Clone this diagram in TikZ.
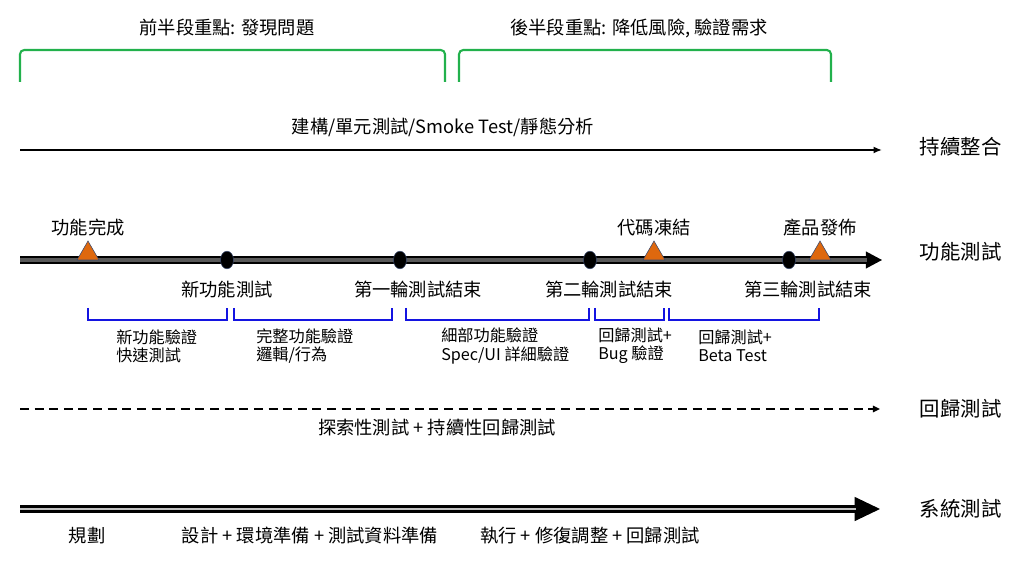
\documentclass[tikz,border=0pt]{standalone}
\usepackage{fontspec}
\setmainfont{Noto Sans CJK TC}
\usetikzlibrary{arrows.meta,shapes.geometric}
\definecolor{phasegreen}{RGB}{34,177,76}
\definecolor{spanblue}{RGB}{20,20,225}
\definecolor{mileorange}{RGB}{222,104,14}
\definecolor{miledge}{RGB}{60,75,110}

\begin{document}
\begin{tikzpicture}[x=0.025cm,y=-0.025cm,
  big/.style={font=\fontsize{13}{15}\selectfont},
  lane/.style={font=\fontsize{14.5}{17}\selectfont,anchor=west},
  small/.style={font=\fontsize{11.5}{13}\selectfont,align=left,anchor=west,inner sep=0pt},
  phase/.style={draw=phasegreen,line width=1.5pt,rounded corners=3pt},
  span/.style={draw=spanblue,line width=1.5pt},
  milestone/.style={fill=mileorange,draw=miledge,line width=0.4pt},
  dot/.style={ellipse,fill=black,draw=miledge,line width=0.4pt,minimum width=9.3pt,minimum height=12.5pt,inner sep=0pt},
  funline/.style={line width=1.1pt,double=black!65,double distance=2.8pt},
  sysline/.style={line width=2.6pt,double=black!25,double distance=1.1pt}]
  \useasboundingbox (0,0) rectangle (1024,569);

  % phases on top
  \node[big] (front) at (227,28) {前半段重點: 發現問題};
  \node[big] (back) at (639,28) {後半段重點: 降低風險, 驗證需求};
  \draw[phase] (20,82) -- (20,50) -- (445,50) -- (445,82);
  \draw[phase] (459,82) -- (459,50) -- (831,50) -- (831,82);

  % continuous integration
  \coordinate (ci0) at (20,150);
  \coordinate (ci1) at (882,150);
  \draw[line width=1.4pt,-{Latex[length=6pt,width=5pt]}] (ci0) -- (ci1);
  \node[big] (citext) at (443,127) {建構/單元測試/Smoke Test/靜態分析};
  \node[lane] (lci) at (915,147) {持續整合};

  % functional testing
  \coordinate (fn0) at (20,260);
  \coordinate (fn1) at (882,260);
  \draw[line width=1pt,-{Triangle[length=11.5pt,width=12pt]}] (fn0) -- (fn1);
  \draw[funline,shorten >=11pt] (fn0) -- (fn1);
  \node[lane] (lfn) at (915,252) {功能測試};

  \foreach \x/\name/\txt in {88/ms1/功能完成,654/ms2/代碼凍結,820/ms3/產品發佈}{
    \filldraw[milestone] (\x-11,260) -- (\x,241) -- (\x+11,260) -- cycle;
    \node[big] (\name) at (\x,228) {\txt};
  }

  \foreach \x/\name in {227/r0,400/r1,590/r2,789/r3}
    \node[dot] (\name) at (\x,260) {};
  \node[big] (lr0) at (227,290) {新功能測試};
  \node[big] (lr1) at (418,290) {第一輪測試結束};
  \node[big] (lr2) at (609,290) {第二輪測試結束};
  \node[big] (lr3) at (808,290) {第三輪測試結束};

  \foreach \a/\b in {88/227,234/392,406/589,595/664,669/819}
    \draw[span] (\a,308) -- (\a,320) -- (\b,320) -- (\b,308);

  \node[small] (s1) at (116,346) {新功能驗證\\快速測試};
  \node[small] (s2) at (256,346) {完整功能驗證\\邏輯/行為};
  \node[small] (s3) at (441,346) {細部功能驗證\\Spec/UI 詳細驗證};
  \node[small] (s4) at (598,346) {回歸測試+\\Bug 驗證};
  \node[small] (s5) at (698,346) {回歸測試+\\Beta Test};

  % regression testing
  \coordinate (rg0) at (20,409);
  \coordinate (rg1) at (880,409);
  \draw[line width=1.6pt,dash pattern=on 6.4pt off 4pt,-{Triangle[length=5pt,width=4.5pt]}] (rg0) -- (rg1);
  \node[big] (rgtext) at (437,428) {探索性測試 + 持續性回歸測試};
  \node[lane] (lrg) at (915,409) {回歸測試};

  % system testing
  \coordinate (st0) at (20,509);
  \coordinate (st1) at (880,509);
  \draw[line width=1pt,-{Triangle[length=18pt,width=17pt]}] (st0) -- (st1);
  \draw[sysline,shorten >=17pt] (st0) -- (st1);
  \node[lane] (lst) at (915,509) {系統測試};

  \node[big] (plan) at (87,536) {規劃};
  \node[big] (prep) at (310,536) {設計 + 環境準備 + 測試資料準備};
  \node[big] (run) at (590,536) {執行 + 修復調整 + 回歸測試};
\end{tikzpicture}
\end{document}
